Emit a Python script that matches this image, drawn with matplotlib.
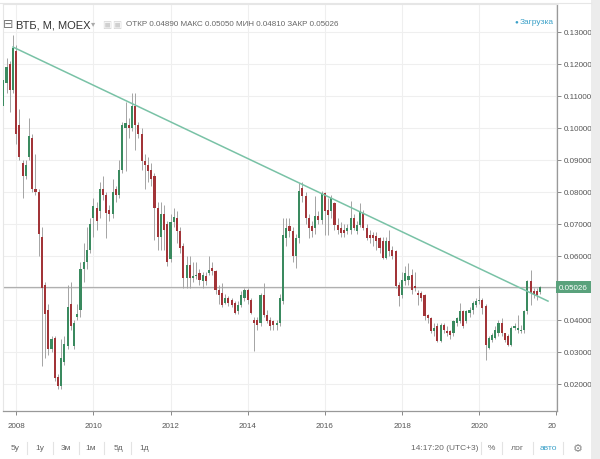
import numpy as np
import matplotlib.pyplot as plt
import matplotlib.transforms as mtransforms
from matplotlib.patches import Rectangle

plt.rcParams['font.family'] = ['Liberation Sans', 'DejaVu Sans']

W, H = 600, 460

# monthly candles (open, high, low, close), Sep 2007 .. Aug 2021
ohlc_2007 = [(0.107, 0.126, 0.104, 0.115), (0.114, 0.122, 0.111, 0.119),
             (0.120, 0.121, 0.105, 0.112), (0.112, 0.129, 0.111, 0.125)]
ohlc_2008 = [(0.124, 0.126, 0.095, 0.098), (0.101, 0.106, 0.090, 0.091),
             (0.089, 0.090, 0.078, 0.085), (0.085, 0.090, 0.084, 0.0885),
             (0.091, 0.103, 0.090, 0.0974), (0.097, 0.098, 0.080, 0.081),
             (0.081, 0.092, 0.079, 0.080), (0.080, 0.081, 0.060, 0.067),
             (0.066, 0.069, 0.0255, 0.050), (0.051, 0.052, 0.028, 0.042),
             (0.043, 0.045, 0.029, 0.031), (0.031, 0.035, 0.030, 0.034)]
ohlc_2009 = [(0.0345, 0.035, 0.021, 0.022), (0.0222, 0.023, 0.0185, 0.0195),
             (0.0195, 0.034, 0.0185, 0.028), (0.027, 0.035, 0.026, 0.0325),
             (0.032, 0.051, 0.031, 0.044), (0.045, 0.052, 0.037, 0.038),
             (0.032, 0.040, 0.031, 0.039), (0.041, 0.045, 0.040, 0.042),
             (0.043, 0.058, 0.041, 0.056), (0.056, 0.064, 0.052, 0.058),
             (0.058, 0.069, 0.056, 0.062), (0.062, 0.072, 0.061, 0.070)]
ohlc_2010 = [(0.072, 0.078, 0.066, 0.0755), (0.075, 0.077, 0.068, 0.071),
             (0.074, 0.083, 0.072, 0.081), (0.081, 0.085, 0.0775, 0.079),
             (0.079, 0.080, 0.0655, 0.0735), (0.0745, 0.076, 0.071, 0.073),
             (0.073, 0.084, 0.072, 0.080), (0.081, 0.082, 0.077, 0.079),
             (0.079, 0.090, 0.078, 0.087), (0.087, 0.102, 0.086, 0.101),
             (0.100, 0.108, 0.0865, 0.1015), (0.101, 0.103, 0.097, 0.100)]
ohlc_2011 = [(0.100, 0.111, 0.099, 0.107), (0.107, 0.111, 0.093, 0.101),
             (0.101, 0.102, 0.097, 0.098), (0.098, 0.100, 0.087, 0.0896),
             (0.0896, 0.092, 0.081, 0.0885), (0.0885, 0.091, 0.083, 0.0865),
             (0.087, 0.089, 0.082, 0.084), (0.085, 0.086, 0.065, 0.075),
             (0.075, 0.077, 0.062, 0.066), (0.066, 0.077, 0.062, 0.073),
             (0.073, 0.076, 0.062, 0.068), (0.070, 0.071, 0.057, 0.058)]
ohlc_2012 = [(0.059, 0.073, 0.058, 0.0705), (0.0705, 0.075, 0.069, 0.0722),
             (0.0719, 0.074, 0.064, 0.0677), (0.0677, 0.069, 0.061, 0.0625),
             (0.063, 0.064, 0.050, 0.0531), (0.0531, 0.060, 0.050, 0.0573),
             (0.0573, 0.060, 0.050, 0.0531), (0.0531, 0.058, 0.052, 0.0536),
             (0.0536, 0.058, 0.0527, 0.0538), (0.0547, 0.056, 0.051, 0.0526),
             (0.0521, 0.055, 0.050, 0.0542), (0.0536, 0.055, 0.051, 0.0521)]
ohlc_2013 = [(0.0547, 0.060, 0.054, 0.0557), (0.0563, 0.058, 0.054, 0.0552),
             (0.0552, 0.0555, 0.048, 0.0495), (0.0495, 0.051, 0.045, 0.0479),
             (0.0484, 0.0516, 0.044, 0.0448), (0.0453, 0.048, 0.045, 0.0469),
             (0.0469, 0.0475, 0.0445, 0.0453), (0.0464, 0.047, 0.044, 0.0448),
             (0.0453, 0.046, 0.042, 0.0422), (0.0427, 0.046, 0.042, 0.0448),
             (0.0448, 0.049, 0.044, 0.0479), (0.0469, 0.050, 0.046, 0.0495)]
ohlc_2014 = [(0.0495, 0.050, 0.045, 0.0464), (0.0464, 0.047, 0.042, 0.0422),
             (0.0401, 0.041, 0.0302, 0.0391), (0.0401, 0.041, 0.037, 0.0385),
             (0.0391, 0.0485, 0.038, 0.0479), (0.0479, 0.0516, 0.041, 0.0417),
             (0.0417, 0.043, 0.039, 0.0396), (0.0401, 0.041, 0.037, 0.038),
             (0.0396, 0.040, 0.037, 0.0385), (0.0385, 0.040, 0.037, 0.0391),
             (0.039, 0.048, 0.038, 0.0469), (0.0458, 0.0719, 0.045, 0.0667)]
ohlc_2015 = [(0.0656, 0.0719, 0.063, 0.0688), (0.0693, 0.072, 0.066, 0.0677),
             (0.0677, 0.069, 0.058, 0.0599), (0.0599, 0.067, 0.0563, 0.0656),
             (0.0656, 0.0828, 0.064, 0.0802), (0.0813, 0.083, 0.077, 0.0786),
             (0.0786, 0.080, 0.070, 0.0719), (0.0719, 0.073, 0.0656, 0.0688),
             (0.0693, 0.071, 0.066, 0.0677), (0.0688, 0.0786, 0.067, 0.0724),
             (0.0724, 0.074, 0.070, 0.0714), (0.0714, 0.0802, 0.070, 0.0797)]
ohlc_2016 = [(0.0797, 0.080, 0.0667, 0.074), (0.0745, 0.0781, 0.0667, 0.0729),
             (0.074, 0.079, 0.072, 0.0781), (0.0766, 0.077, 0.068, 0.0698),
             (0.0698, 0.072, 0.067, 0.0682), (0.0688, 0.0705, 0.066, 0.0672),
             (0.0682, 0.070, 0.066, 0.0672), (0.0677, 0.070, 0.067, 0.0688),
             (0.0682, 0.0771, 0.067, 0.0719), (0.0719, 0.073, 0.068, 0.0688),
             (0.0677, 0.071, 0.067, 0.0698), (0.0698, 0.0766, 0.069, 0.074)]
ohlc_2017 = [(0.0735, 0.0745, 0.068, 0.0688), (0.0688, 0.070, 0.065, 0.0656),
             (0.0667, 0.068, 0.064, 0.0656), (0.0667, 0.0675, 0.063, 0.0656),
             (0.0662, 0.0675, 0.062, 0.0646), (0.0656, 0.066, 0.061, 0.0625),
             (0.0646, 0.066, 0.059, 0.0594), (0.0594, 0.066, 0.059, 0.0646),
             (0.0646, 0.068, 0.060, 0.0615), (0.062, 0.063, 0.059, 0.0599),
             (0.0615, 0.062, 0.050, 0.0505), (0.051, 0.052, 0.0443, 0.0474)]
ohlc_2018 = [(0.0479, 0.055, 0.047, 0.0526), (0.0521, 0.057, 0.051, 0.0547),
             (0.0526, 0.0578, 0.051, 0.0536), (0.0542, 0.056, 0.048, 0.0495),
             (0.0505, 0.055, 0.049, 0.050), (0.0484, 0.0495, 0.0448, 0.0479),
             (0.0484, 0.049, 0.046, 0.0469), (0.0479, 0.048, 0.040, 0.0411),
             (0.0417, 0.042, 0.039, 0.0406), (0.0406, 0.041, 0.036, 0.0365),
             (0.0365, 0.039, 0.035, 0.0375), (0.038, 0.039, 0.033, 0.0333)]
ohlc_2019 = [(0.0333, 0.039, 0.033, 0.0385), (0.0385, 0.039, 0.036, 0.037),
             (0.0365, 0.038, 0.035, 0.036), (0.0365, 0.037, 0.034, 0.0354),
             (0.0359, 0.040, 0.035, 0.0396), (0.0391, 0.041, 0.038, 0.0406),
             (0.0396, 0.0453, 0.039, 0.0427), (0.0427, 0.043, 0.0375, 0.038),
             (0.0396, 0.043, 0.039, 0.0427), (0.0422, 0.044, 0.041, 0.0432),
             (0.0432, 0.046, 0.042, 0.0453), (0.0448, 0.047, 0.044, 0.0458)]
ohlc_2020 = [(0.0458, 0.0505, 0.045, 0.0464), (0.0464, 0.047, 0.042, 0.0437),
             (0.0443, 0.045, 0.0276, 0.0323), (0.0313, 0.035, 0.031, 0.0344),
             (0.0339, 0.036, 0.033, 0.0354), (0.0344, 0.038, 0.034, 0.037),
             (0.0359, 0.040, 0.035, 0.0391), (0.0391, 0.0406, 0.035, 0.0359),
             (0.0359, 0.036, 0.033, 0.0339), (0.035, 0.0355, 0.032, 0.0323),
             (0.0323, 0.038, 0.032, 0.0375), (0.0375, 0.039, 0.037, 0.038)]
ohlc_2021 = [(0.037, 0.0417, 0.036, 0.0375), (0.0365, 0.0385, 0.036, 0.037),
             (0.037, 0.043, 0.036, 0.0427), (0.0427, 0.0525, 0.042, 0.0521),
             (0.0521, 0.0557, 0.0448, 0.0484), (0.049, 0.050, 0.047, 0.0479),
             (0.049, 0.050, 0.0464, 0.0479), (0.0489, 0.0505, 0.0481, 0.05026)]

# trend line drawn by hand on the chart (bar index, price)
trend_idx = [3, 169.4]
trend_val = [0.1253, 0.0459]
last_close = 0.05026

year_idx = [4, 28, 52, 76, 100, 124, 148, 172]
year_labels = ['2008', '2010', '2012', '2014', '2016', '2018', '2020', '20']
price_ticks = [0.02, 0.03, 0.04, 0.05, 0.06, 0.07, 0.08, 0.09, 0.10, 0.11, 0.12, 0.13]

bars = np.array(ohlc_2007 + ohlc_2008 + ohlc_2009 + ohlc_2010 + ohlc_2011 + ohlc_2012 +
                ohlc_2013 + ohlc_2014 + ohlc_2015 + ohlc_2016 + ohlc_2017 + ohlc_2018 +
                ohlc_2019 + ohlc_2020 + ohlc_2021)
o, h, l, c = bars.T
idx = np.arange(len(bars))
up = c >= o

green = '#3a8a5f'
red = '#a23438'
grey_txt = '#555555'

fig = plt.figure(figsize=(6, 4.6), dpi=100)
ax = fig.add_axes([3 / W, 1 - 412 / H, 554 / W, 407 / H])

ax.vlines(idx, l, h, colors='#a4a4a4', lw=0.7, zorder=2)
ax.bar(idx, np.maximum(np.abs(c - o), 0.0004), bottom=np.minimum(o, c), width=0.66,
       color=np.where(up, green, red), linewidth=0, zorder=3)

ax.axhline(last_close, color='#b0b0b0', lw=0.9, zorder=1)
ax.plot(trend_idx, trend_val, color='#79c2a6', lw=1.1, zorder=4)

ax.set_xlim(-0.1, 172.2)
ax.set_ylim(0.01156, 0.13875)

ax.set_xticks(year_idx)
ax.set_xticklabels(year_labels)
ax.get_xticklabels()[-1].set_ha('right')
ax.set_yticks(price_ticks)
# the 0.05 label sits under the last-price box, as on the original
ax.set_yticklabels(['' if abs(v - last_close) < 0.003 else '%.5f' % v for v in price_ticks])
ax.yaxis.tick_right()
ax.tick_params(axis='both', colors='#888888', labelcolor=grey_txt, labelsize=5.8, length=3, width=0.7)
ax.tick_params(axis='x', pad=5)
ax.tick_params(axis='y', pad=2)
ax.grid(True, color='#efefef', lw=0.8, zorder=0)
ax.set_axisbelow(True)

for side in ['left', 'top']:
    ax.spines[side].set_color('#e6e6e6')
    ax.spines[side].set_linewidth(0.8)
for side in ['right', 'bottom']:
    ax.spines[side].set_color('#999999')
    ax.spines[side].set_linewidth(0.9)

# last price label on the price scale
trans = mtransforms.blended_transform_factory(fig.transFigure, ax.transData)
ax.text(559 / W, last_close, '%.5f' % last_close, transform=trans, color='white', fontsize=5.8,
        va='center', ha='left', zorder=10, clip_on=False,
        bbox=dict(boxstyle='square,pad=0.35', fc='#5aa27c', ec='none'))

# header
def px(x, y):
    return x / W, 1 - y / H

fig.text(*px(8, 25), '\u229f', fontsize=9, color='#777777', va='center', ha='center')
fig.text(*px(16, 25), 'ВТБ, М, MOEX', fontsize=8, color='#333333', va='center')
fig.text(*px(91, 25), '\u25be', fontsize=6, color='#aaaaaa', va='center')
fig.text(*px(102, 25), '\u25a3', fontsize=7, color='#d0d0d0', va='center')
fig.text(*px(112, 25), '\u25a3', fontsize=7, color='#d0d0d0', va='center')
fig.text(*px(126, 25), 'ОТКР 0.04890 МАКС 0.05050 МИН 0.04810 ЗАКР 0.05026',
         fontsize=5.8, color='#666666', va='center')
fig.text(*px(516, 22), '\u25cf', fontsize=4.5, color='#3aa0c8', va='center', ha='center')
fig.text(*px(520, 22), 'Загрузка', fontsize=6, color='#3aa0c8', va='center')

# bottom toolbar
for x, s in zip([15, 40, 66, 91, 118, 144], ['5y', '1y', '3м', '1м', '5д', '1д']):
    fig.text(*px(x, 449), s, fontsize=6, color='#666666', va='center', ha='center')
for x in [27, 53, 79, 104, 131, 481, 502, 533, 563]:
    fig.add_artist(plt.Line2D([x / W, x / W], [1 - 443 / H, 1 - 455 / H], color='#e3e3e3', lw=0.8))
fig.text(*px(445, 449), '14:17:20 (UTC+3)', fontsize=6, color='#666666', va='center', ha='center')
fig.text(*px(491, 449), '%', fontsize=6, color='#666666', va='center', ha='center')
fig.text(*px(517, 449), 'лог', fontsize=6, color='#666666', va='center', ha='center')
fig.text(*px(548, 449), 'авто', fontsize=6, color='#3aa0c8', va='center', ha='center')
fig.text(*px(578, 449), '\u2699', fontsize=8, color='#888888', va='center', ha='center')

fig.add_artist(Rectangle((591 / W, 0), 9 / W, 1, transform=fig.transFigure, color='#ececec', lw=0))
fig.add_artist(plt.Line2D([0, 591 / W], [1 - 4 / H, 1 - 4 / H], color='#e6e6e6', lw=0.8))

fig.savefig('out.png', dpi=100)
